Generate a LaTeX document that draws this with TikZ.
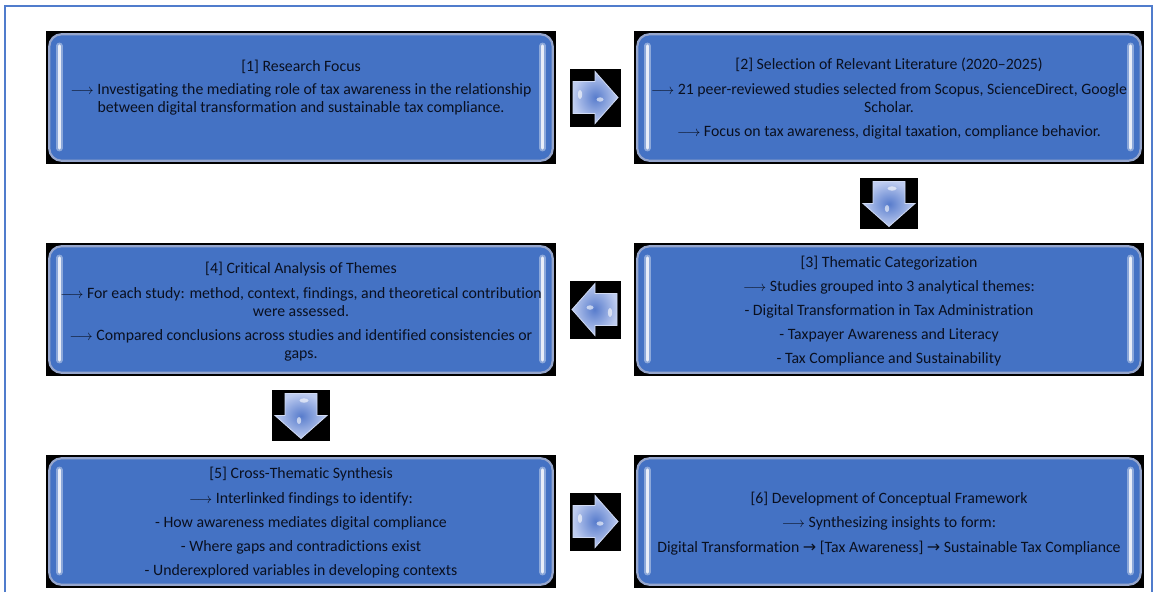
\documentclass[tikz,border=0pt]{standalone}
\usepackage{fontspec}
\setmainfont[Ligatures=NoCommon]{Carlito}
\newfontfamily\arrowfont{DejaVu Sans}
\usetikzlibrary{calc}
\definecolor{boxblue}{RGB}{68,114,196}
\definecolor{rimcol}{RGB}{150,166,204}
\definecolor{txt}{RGB}{10,16,32}
\definecolor{framecol}{RGB}{80,124,204}
\definecolor{arrin}{RGB}{88,124,204}
\definecolor{arrout}{RGB}{190,204,240}
\newcommand{\longarr}{$\longrightarrow$}
\newcommand{\shortarr}{{\arrowfont\fontsize{16}{18}\selectfont →}}
\newcommand{\glassdeco}[1]{%
  \path[glass] ($(#1.north west)+(3.5,3.5)$) rectangle ($(#1.south east)+(-3.5,-3.5)$);
  \draw[glow] ($(#1.north west)+(13.5,15)$) -- ($(#1.south west)+(13.5,-16)$);
  \draw[shine] ($(#1.north west)+(13.5,15)$) -- ($(#1.south west)+(13.5,-16)$);
  \draw[glow] ($(#1.north east)+(-13.5,15)$) -- ($(#1.south east)+(-13.5,-16)$);
  \draw[shine] ($(#1.north east)+(-13.5,15)$) -- ($(#1.south east)+(-13.5,-16)$);}
\newcommand{\blockarrow}[3]{%
  \coordinate (#1) at #2;
  \begin{scope}[shift={(#1)}, rotate=#3]
    \fill[black] (-25.5,-29) rectangle (25.5,29);
    \path[arrowbody] (-22,-16) -- (0,-16) -- (0,-26) -- (23,0) -- (0,26) -- (0,16) -- (-22,16) -- cycle;
    \fill[white, opacity=0.6] (-15,-3) ellipse [x radius=2.2, y radius=4.5];
    \fill[white, opacity=0.6] (5,2) ellipse [x radius=3.5, y radius=2.2];
  \end{scope}}
\begin{document}
\begin{tikzpicture}[x=1pt, y=-1pt,
  stepbox/.style={rectangle, fill=black, minimum width=510pt, minimum height=133pt, inner sep=0pt},
  boxtext/.style={anchor=north, align=center, inner sep=0pt, text=txt, font=\fontsize{15.8}{18}\selectfont},
  glass/.style={fill=boxblue, draw=rimcol, line width=2.2pt, rounded corners=12pt},
  shine/.style={line cap=round, line width=3pt, draw=white!88!boxblue},
  glow/.style={line cap=round, line width=6.5pt, draw=boxblue!45!white, opacity=0.7},
  arrowbody/.style={inner color=arrin, outer color=arrout, draw=arrout!70!white, line width=0.8pt}]
\useasboundingbox (0,0) rectangle (1155,592);
\fill[white] (0,0) rectangle (1155,592);
\draw[framecol, line width=1.6pt] (5,592) -- (5,6) -- (1152,6) -- (1152,592);
% boxes
\node[stepbox] (b1) at (301,97.5) {};
\node[stepbox] (b2) at (889,97.5) {};
\node[stepbox] (b3) at (889,309.5) {};
\node[stepbox] (b4) at (301,309.5) {};
\node[stepbox] (b5) at (301,521.5) {};
\node[stepbox] (b6) at (889,521.5) {};
\glassdeco{b1}\glassdeco{b2}\glassdeco{b3}\glassdeco{b4}\glassdeco{b5}\glassdeco{b6}
% texts
\node[boxtext] (t1) at (301,60) {[1] Research Focus\\[5pt]
  \longarr\ Investigating the mediating role of tax awareness in the relationship\\
  between digital transformation and sustainable tax compliance.};
\node[boxtext] (t2) at (889,58) {[2] Selection of Relevant Literature (2020–2025)\\[6.5pt]
  \longarr\ 21 peer-reviewed studies selected from Scopus, ScienceDirect, Google\\
  Scholar.\\[6.5pt]
  \longarr\ Focus on tax awareness, digital taxation, compliance behavior.};
\node[boxtext] (t3) at (889,256) {[3] Thematic Categorization\\[6pt]
  \longarr\ Studies grouped into 3 analytical themes:\\[6pt]
  - Digital Transformation in Tax Administration\\[6pt]
  - Taxpayer Awareness and Literacy\\[6pt]
  - Tax Compliance and Sustainability};
\node[boxtext] (t4) at (301,262) {[4] Critical Analysis of Themes\\[6.5pt]
  \longarr\ For each study: method, context, findings, and theoretical contribution\\
  were assessed.\\[6.5pt]
  \longarr\ Compared conclusions across studies and identified consistencies or\\
  gaps.};
\node[boxtext] (t5) at (301,467) {[5] Cross-Thematic Synthesis\\[6.5pt]
  \longarr\ Interlinked findings to identify:\\[6pt]
  - How awareness mediates digital compliance\\[6.5pt]
  - Where gaps and contradictions exist\\[6pt]
  - Underexplored variables in developing contexts};
\node[boxtext] (t6) at (889,492) {[6] Development of Conceptual Framework\\[6pt]
  \longarr\ Synthesizing insights to form:\\[6.5pt]
  Digital Transformation \shortarr\ [Tax Awareness] \shortarr\ Sustainable Tax Compliance};
% block arrows
\blockarrow{a1}{($(b1.east)!0.5!(b2.west)$)}{0}
\blockarrow{a2}{($(b2.south)!0.5!(b3.north)$)}{-90}
\blockarrow{a3}{($(b3.west)!0.5!(b4.east)$)}{180}
\blockarrow{a4}{($(b4.south)!0.5!(b5.north)$)}{-90}
\blockarrow{a5}{($(b5.east)!0.5!(b6.west)$)}{0}
\end{tikzpicture}
\end{document}
